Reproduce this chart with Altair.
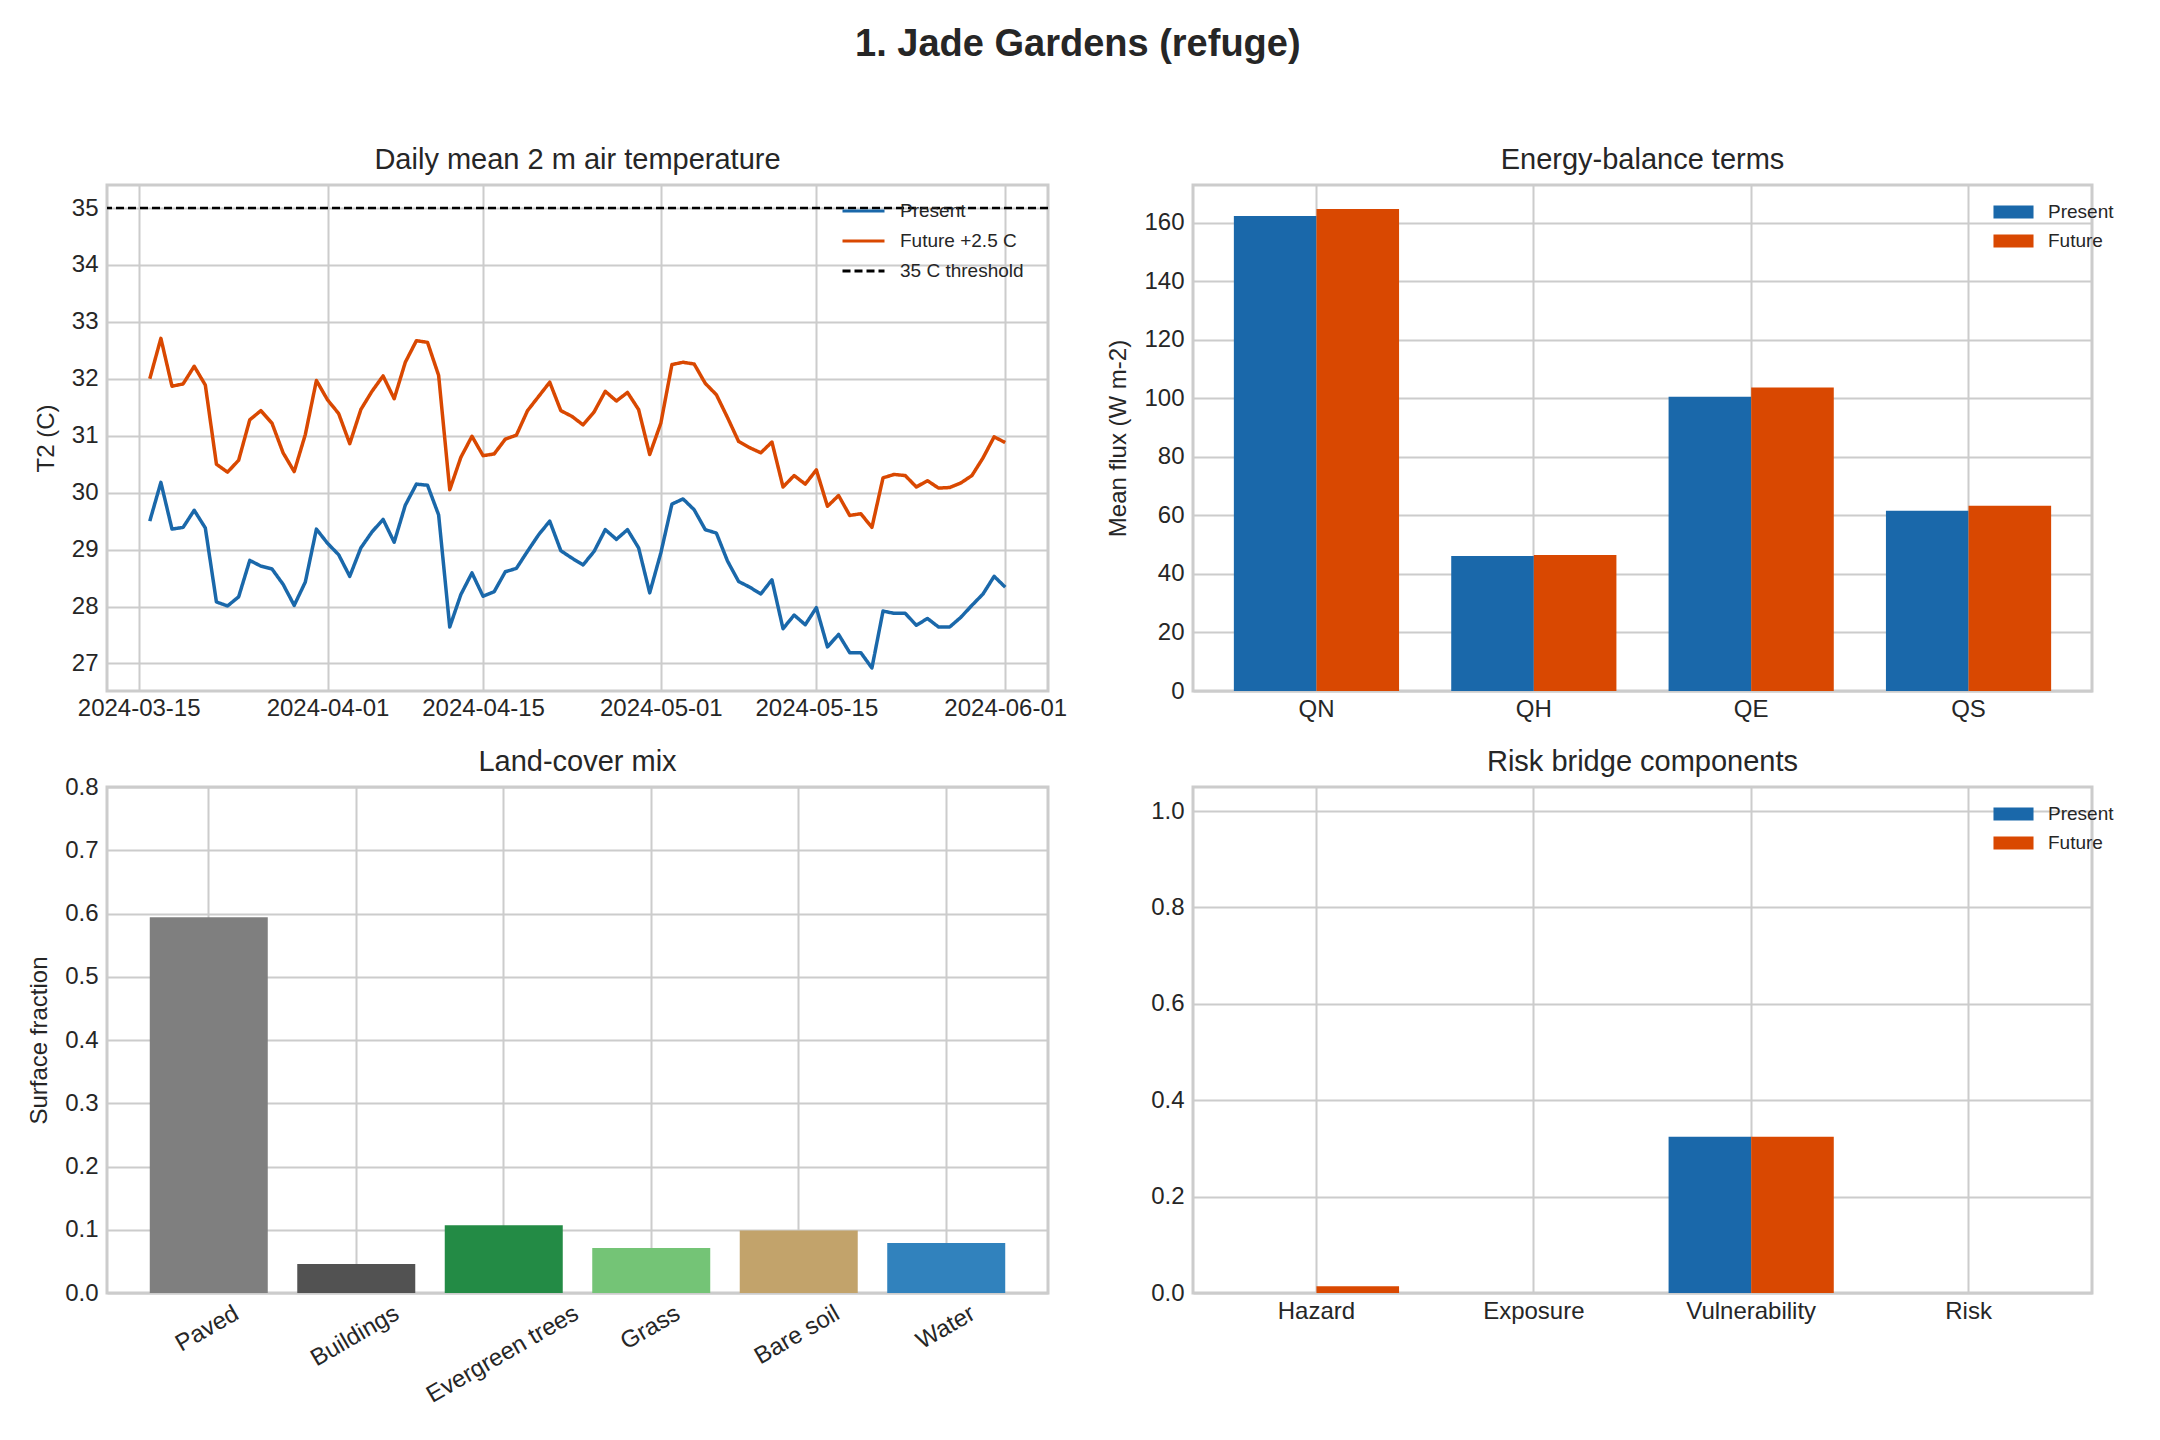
import altair as alt
import pandas as pd

# ---------------------------------------------------------------- data
SITE_TITLE = "1. Jade Gardens (refuge)"

# Daily mean 2 m air temperature (C), one value per day
T2_START = "2024-03-16"
T2_END = "2024-06-01"
T2_PRESENT = [
    29.50, 30.18, 29.36, 29.39, 29.69, 29.38, 28.08, 28.01, 28.17, 28.81,
    28.71, 28.66, 28.39, 28.02, 28.43, 29.36, 29.11, 28.91, 28.53, 29.03,
    29.31, 29.53, 29.13, 29.78, 30.15, 30.13, 29.61, 27.64, 28.21, 28.59,
    28.18, 28.26, 28.61, 28.67, 28.97, 29.26, 29.50, 28.98, 28.85, 28.73,
    28.97, 29.35, 29.18, 29.35, 29.03, 28.24, 28.94, 29.80, 29.89, 29.70,
    29.35, 29.29, 28.80, 28.44, 28.34, 28.22, 28.47, 27.61, 27.85, 27.68,
    27.98, 27.29, 27.51, 27.19, 27.19, 26.92, 27.92, 27.88, 27.88, 27.67,
    27.79, 27.64, 27.64, 27.81, 28.02, 28.22, 28.53, 28.34,
]
T2_FUTURE = [
    32.00, 32.71, 31.87, 31.91, 32.22, 31.89, 30.50, 30.36, 30.57, 31.28,
    31.44, 31.22, 30.70, 30.37, 31.02, 31.97, 31.63, 31.39, 30.86, 31.46,
    31.78, 32.05, 31.65, 32.29, 32.67, 32.64, 32.06, 30.05, 30.62, 30.99,
    30.65, 30.68, 30.94, 31.01, 31.44, 31.69, 31.94, 31.44, 31.34, 31.19,
    31.42, 31.78, 31.61, 31.76, 31.46, 30.67, 31.22, 32.25, 32.29, 32.26,
    31.92, 31.72, 31.32, 30.90, 30.79, 30.70, 30.89, 30.10, 30.30, 30.15,
    30.40, 29.76, 29.95, 29.60, 29.63, 29.39, 30.26, 30.32, 30.30, 30.10,
    30.21, 30.08, 30.09, 30.17, 30.30, 30.61, 30.98, 30.88,
]
THRESHOLD = 35.0
DATE_TICKS = ["2024-03-15", "2024-04-01", "2024-04-15", "2024-05-01", "2024-05-15", "2024-06-01"]
T2_SERIES = ["Present", "Future +2.5 C", "35 C threshold"]

# Energy-balance terms (W m-2)
FLUX_TERMS = ["QN", "QH", "QE", "QS"]
FLUX_PRESENT = [162.3, 46.1, 100.6, 61.6]
FLUX_FUTURE = [164.7, 46.5, 103.7, 63.3]

# Land-cover surface fractions
LAND_COVER = ["Paved", "Buildings", "Evergreen trees", "Grass", "Bare soil", "Water"]
LAND_FRACTION = [0.594, 0.046, 0.107, 0.071, 0.099, 0.079]

# Risk bridge components
RISK_TERMS = ["Hazard", "Exposure", "Vulnerability", "Risk"]
RISK_PRESENT = [0.0, 0.0, 0.324, 0.0]
RISK_FUTURE = [0.014, 0.0, 0.324, 0.0]

SCENARIOS = ["Present", "Future"]

# ---------------------------------------------------------------- style
BLUE = "#1a68aa"
ORANGE = "#d94801"
LAND_COLORS = ["#7f7f7f", "#525252", "#238b45", "#74c476", "#c2a36b", "#3182bd"]
TEXT = "#262626"
GRID = "#cccccc"
FONT = "Liberation Sans"

W_LEFT, W_RIGHT, H = 941, 899, 506

# shift along the axis for 30-degree rotated, right-anchored category labels
LAND_LABEL_SHIFT = [22, 35, 67, 21, 33, 21]


def utc_ms(day):
    return int(pd.Timestamp(day, tz="UTC").value // 10**6)


# ---------------------------------------------------------------- temperature panel
days = pd.date_range(T2_START, T2_END, freq="D")
n_days = len(days)
t2 = pd.DataFrame({
    "date": [d.strftime("%Y-%m-%d") for d in days] * 2,
    "series": ["Present"] * n_days + ["Future +2.5 C"] * n_days,
    "t2": T2_PRESENT + T2_FUTURE,
})
thr = pd.DataFrame({"threshold": [THRESHOLD], "series": ["35 C threshold"]})

span_ms = utc_ms(T2_END) - utc_ms(T2_START)
x_domain = [utc_ms(T2_START) - 0.05 * span_ms, utc_ms(T2_END) + 0.05 * span_ms]
y_lo = min(T2_PRESENT + T2_FUTURE)
y_hi = max(T2_PRESENT + T2_FUTURE + [THRESHOLD])
y_pad = 0.05 * (y_hi - y_lo)
t2_y_scale = alt.Scale(domain=[y_lo - y_pad, y_hi + y_pad], nice=False, zero=False)
t2_y_axis = alt.Axis(title="T2 (C)", values=list(range(27, 36)), format="d")

t2_x = alt.X(
    "date:T",
    scale=alt.Scale(type="utc", domain=x_domain),
    axis=alt.Axis(
        title=None,
        values=[utc_ms(d) for d in DATE_TICKS],
        labelExpr="utcFormat(datum.value, '%Y-%m-%d')",
        labelFlush=False,
        labelOverlap=False,
        labelPadding=5,
    ),
)

line_legend = alt.Legend(
    title=None, orient="none", legendX=747, legendY=16.5,
    symbolType="M-4.2,0L4.2,0", symbolSize=100, symbolStrokeWidth=3.2,
    symbolFillColor="transparent", labelOffset=27, rowPadding=10, padding=0,
    labelFontSize=19, labelColor=TEXT,
)
t2_color = alt.Scale(domain=T2_SERIES, range=[BLUE, ORANGE, "#000000"])
t2_dash = alt.Scale(domain=T2_SERIES, range=[[1, 0], [1, 0], [8, 4]])

t2_lines = alt.Chart(t2).mark_line(strokeWidth=3.5, strokeJoin="round").encode(
    x=t2_x,
    y=alt.Y("t2:Q", scale=t2_y_scale, axis=t2_y_axis),
    color=alt.Color("series:N", scale=t2_color, legend=line_legend),
    strokeDash=alt.StrokeDash("series:N", scale=t2_dash, legend=line_legend),
)
t2_rule = alt.Chart(thr).mark_rule(strokeWidth=2.4).encode(
    y=alt.Y("threshold:Q", scale=t2_y_scale, axis=t2_y_axis),
    color=alt.Color("series:N", scale=t2_color, legend=line_legend),
    strokeDash=alt.StrokeDash("series:N", scale=t2_dash, legend=line_legend),
)
temp_panel = alt.layer(t2_rule, t2_lines).properties(
    width=W_LEFT, height=H, title="Daily mean 2 m air temperature"
)

# ---------------------------------------------------------------- grouped bar panels
bar_legend = alt.Legend(
    title=None, orient="none", legendX=811, legendY=17.5,
    symbolType="M-2.86,-0.93L2.86,-0.93L2.86,0.93L-2.86,0.93Z", symbolSize=196,
    symbolStrokeWidth=0, labelOffset=25, rowPadding=9, padding=0,
    labelFontSize=19, labelColor=TEXT,
)
scenario_color = alt.Color(
    "series:N", scale=alt.Scale(domain=SCENARIOS, range=[BLUE, ORANGE]), legend=bar_legend
)
scenario_offset = alt.XOffset(
    "series:N", sort=SCENARIOS, scale=alt.Scale(domain=SCENARIOS, paddingInner=0, paddingOuter=0)
)


def grouped_bars(terms, present, future, y_domain, y_values, y_format, y_title, title):
    df = pd.DataFrame({
        "term": terms * 2,
        "series": ["Present"] * len(terms) + ["Future"] * len(terms),
        "value": present + future,
    })
    return alt.Chart(df).mark_bar().encode(
        x=alt.X(
            "term:N", sort=terms,
            scale=alt.Scale(domain=terms, paddingInner=0.24, paddingOuter=0.188),
            axis=alt.Axis(title=None, labelAngle=0, grid=True, bandPosition=0.5, labelPadding=6),
        ),
        xOffset=scenario_offset,
        y=alt.Y(
            "value:Q", scale=alt.Scale(domain=y_domain, nice=False),
            axis=alt.Axis(title=y_title, values=y_values, format=y_format),
        ),
        color=scenario_color,
    ).properties(width=W_RIGHT, height=H, title=title)


flux_panel = grouped_bars(
    FLUX_TERMS, FLUX_PRESENT, FLUX_FUTURE,
    [0, 1.05 * max(FLUX_PRESENT + FLUX_FUTURE)], list(range(0, 161, 20)), "d",
    "Mean flux (W m-2)", "Energy-balance terms",
)
risk_panel = grouped_bars(
    RISK_TERMS, RISK_PRESENT, RISK_FUTURE,
    [0, 1.05], [0, 0.2, 0.4, 0.6, 0.8, 1.0], ".1f",
    None, "Risk bridge components",
)

# ---------------------------------------------------------------- land-cover panel
land = pd.DataFrame({"cover": LAND_COVER, "fraction": LAND_FRACTION})
label_shift = {
    "condition": [
        {"test": f"datum.value === '{c}'", "value": s}
        for c, s in zip(LAND_COVER, LAND_LABEL_SHIFT)
    ],
    "value": 0,
}
land_panel = alt.Chart(land).mark_bar().encode(
    x=alt.X(
        "cover:N", sort=LAND_COVER,
        scale=alt.Scale(domain=LAND_COVER, paddingInner=0.2, paddingOuter=0.29),
        axis=alt.Axis(
            title=None, grid=True, bandPosition=0.5, labelAngle=330,
            labelAlign="right", labelBaseline="top", labelPadding=8,
            labelOffset=label_shift, labelLimit=0,
        ),
    ),
    y=alt.Y(
        "fraction:Q", scale=alt.Scale(domain=[0, 0.8], nice=False),
        axis=alt.Axis(title="Surface fraction", values=[i / 10 for i in range(9)], format=".1f"),
    ),
    color=alt.Color("cover:N", scale=alt.Scale(domain=LAND_COVER, range=LAND_COLORS), legend=None),
).properties(
    width=W_LEFT, height=H,
    # the top tick label overhangs the frame, so pull the title back down
    title=alt.TitleParams("Land-cover mix", offset=-2),
)

# ---------------------------------------------------------------- figure
chart = alt.concat(
    temp_panel, flux_panel, land_panel, risk_panel,
    columns=2,
    spacing={"row": 96, "column": 145},
    bounds="flush",
    title=alt.TitleParams(
        SITE_TITLE, fontSize=38, fontWeight="bold", anchor="middle",
        offset=81, dx=7, color=TEXT,
    ),
    padding={"left": 26, "top": 25, "right": 30, "bottom": 30},
).resolve_scale(
    color="independent", strokeDash="independent"
).resolve_legend(
    color="independent", strokeDash="independent"
).configure(
    font=FONT, background="white"
).configure_view(
    stroke=GRID, strokeWidth=3
).configure_axis(
    labelFont=FONT, labelFontSize=24, labelColor=TEXT,
    titleFont=FONT, titleFontSize=24, titleFontWeight="normal", titleColor=TEXT,
    gridColor=GRID, gridWidth=2, domain=False, ticks=False,
    labelPadding=9, titlePadding=13,
).configure_title(
    font=FONT, fontSize=29, fontWeight="normal", color=TEXT, offset=10, anchor="middle"
).configure_legend(
    labelFont=FONT
)

chart.save("out.html", embed_options={"renderer": "svg", "actions": False})
